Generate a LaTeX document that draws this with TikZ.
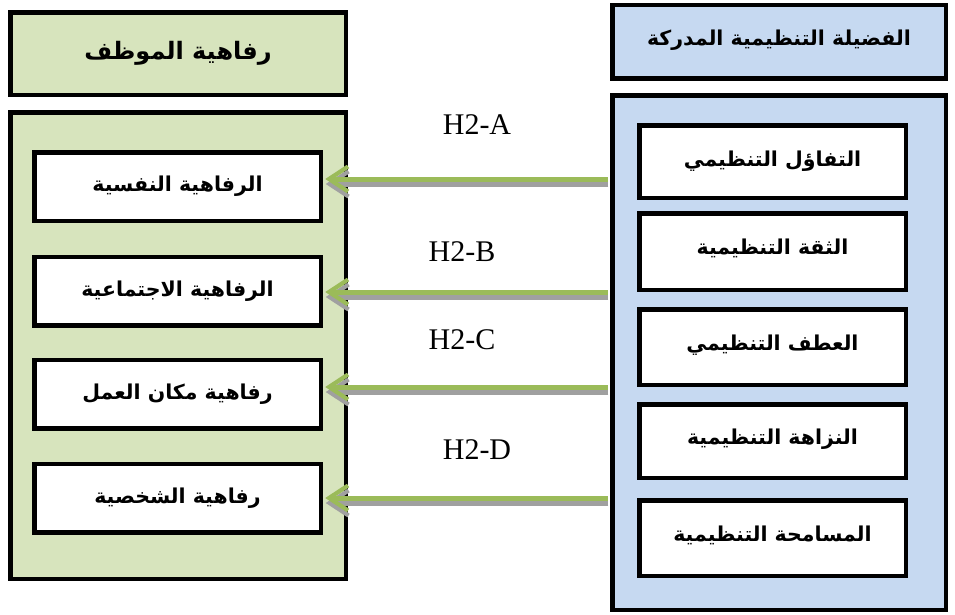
\documentclass[tikz,border=0pt]{standalone}
\usepackage{fontspec}
\setmainfont{Liberation Serif}
\newfontfamily\arabicfont[Script=Arabic]{DejaVu Sans}
\TeXXeTstate=1
\usetikzlibrary{arrows.meta}
\definecolor{lgreen}{HTML}{D7E4BD}
\definecolor{lblue}{HTML}{C6D9F1}
\definecolor{agreen}{HTML}{9BBB59}
\definecolor{ashadow}{HTML}{A0A0A0}
\newcommand{\artxt}[2][0pt]{\raisebox{#1}{\arabicfont\bfseries\beginR #2\endR}}
\begin{document}
\begin{tikzpicture}[x=1pt,y=-1pt,
  boxframe/.style={draw=black,line width=4.5pt,inner sep=0pt},
  greenbox/.style={boxframe,fill=lgreen},
  bluebox/.style={boxframe,fill=lblue},
  leftitem/.style={boxframe,fill=white,minimum width=286.5pt,minimum height=68.5pt,font=\fontsize{20.5}{24}\selectfont},
  rightitem/.style={boxframe,fill=white,minimum width=266.5pt,font=\fontsize{20.5}{24}\selectfont},
  hlabel/.style={font=\fontsize{30}{34}\selectfont,inner sep=0pt},
  arrowline/.style={line width=5pt,-{Straight Barb[length=19pt,width=25pt,line width=4.2pt]}},
]
\useasboundingbox (0,0) rectangle (955,614);

% left side
\node[greenbox,minimum width=335.5pt,minimum height=82.5pt,font=\fontsize{24}{28}\selectfont] (ltitle) at (178,53.5) {\artxt[3pt]{رفاهية الموظف}};
\node[greenbox,minimum width=335.5pt,minimum height=466.5pt] (lbig) at (178,345.5) {};
\node[leftitem] (L1) at (177.5,186.5) {\artxt[4pt]{الرفاهية النفسية}};
\node[leftitem] (L2) at (177.5,291) {\artxt[5pt]{الرفاهية الاجتماعية}};
\node[leftitem] (L3) at (177.5,394) {\artxt[5pt]{رفاهية مكان العمل}};
\node[leftitem] (L4) at (177.5,498) {\artxt[5pt]{رفاهية الشخصية}};

% right side
\node[bluebox,minimum width=333.5pt,minimum height=73.5pt,font=\fontsize{20.5}{24}\selectfont] (rtitle) at (779,41.5) {\artxt[8pt]{الفضيلة التنظيمية المدركة}};
\node[bluebox,minimum width=333.5pt,minimum height=514.5pt] (rbig) at (779,352.5) {};
\node[rightitem,minimum height=72.5pt] (R1) at (772.5,161.5) {\artxt[6pt]{التفاؤل التنظيمي}};
\node[rightitem,minimum height=76.5pt] (R2) at (772.5,251.5) {\artxt[9pt]{الثقة التنظيمية}};
\node[rightitem,minimum height=75.5pt] (R3) at (772.5,347) {\artxt[9pt]{العطف التنظيمي}};
\node[rightitem,minimum height=73.5pt] (R4) at (772.5,441) {\artxt[9pt]{النزاهة التنظيمية}};
\node[rightitem,minimum height=75.5pt] (R5) at (772.5,538) {\artxt[8pt]{المسامحة التنظيمية}};

% hypothesis labels
\node[hlabel] (hA) at (477,125) {H2-A};
\node[hlabel] (hB) at (462,252) {H2-B};
\node[hlabel] (hC) at (462,340) {H2-C};
\node[hlabel] (hD) at (477,450) {H2-D};

% arrow end points
\coordinate (rw) at ([xshift=-2.25pt]rbig.west);
\coordinate (e1) at ([yshift=7.5pt,xshift=2.25pt]L1.east);
\coordinate (e2) at ([yshift=-1pt,xshift=2.25pt]L2.east);
\coordinate (e3) at ([yshift=7pt,xshift=2.25pt]L3.east);
\coordinate (e4) at ([xshift=2.25pt]L4.east);

% shadows
\begin{scope}[transform canvas={xshift=0.5pt,yshift=-5pt}]
\foreach \e in {e1,e2,e3,e4}
  \draw[arrowline,ashadow] (rw |- \e) -- (\e);
\end{scope}
% arrows
\foreach \e in {e1,e2,e3,e4}
  \draw[arrowline,agreen] (rw |- \e) -- (\e);
\end{tikzpicture}
\end{document}
